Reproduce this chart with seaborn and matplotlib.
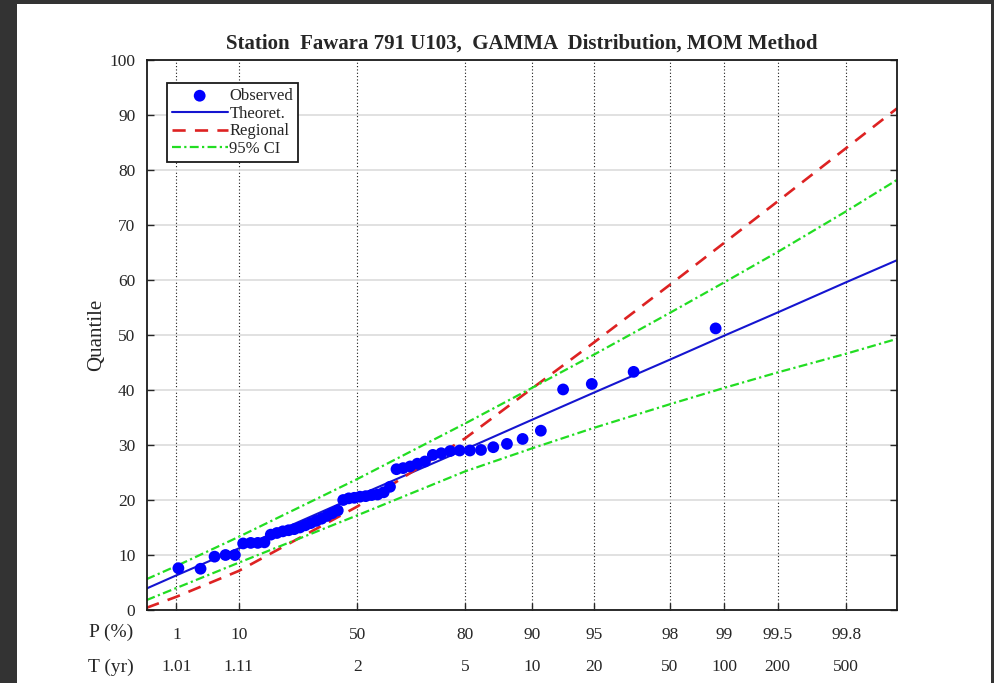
from statistics import NormalDist

import numpy as np
import pandas as pd
import matplotlib
matplotlib.use('Agg')
import matplotlib.pyplot as plt
import matplotlib.transforms as mtransforms
from matplotlib.patches import Rectangle
import seaborn as sns

TITLE = 'Station  Fawara 791 U103,  GAMMA  Distribution, MOM Method'

# observed annual maxima (sorted) and their plotting positions, P in %
obs_p = [1.12, 3.11, 5.11, 7.10, 9.10, 11.09, 13.09, 15.08, 17.08, 19.07,
         21.07, 23.07, 25.06, 27.06, 29.05, 31.05, 33.04, 35.04, 37.03, 39.03,
         41.02, 43.02, 45.01, 47.01, 49.00, 51.00, 52.99, 54.99, 56.98, 58.98,
         60.97, 62.97, 64.96, 66.96, 68.95, 70.95, 72.94, 74.94, 76.94, 78.93,
         80.93, 82.92, 84.92, 86.91, 88.91, 90.90, 92.90, 94.89, 96.89, 98.88]
obs_q = [7.6, 7.5, 9.7, 10.0, 10.0, 12.1, 12.2, 12.2, 12.3, 13.7,
         14.0, 14.3, 14.5, 14.7, 15.0, 15.4, 15.8, 16.2, 16.6, 17.1,
         17.6, 18.1, 20.0, 20.3, 20.4, 20.6, 20.7, 20.9, 21.0, 21.4,
         22.4, 25.6, 25.8, 26.1, 26.6, 27.0, 28.2, 28.5, 28.9, 29.0,
         29.0, 29.1, 29.6, 30.2, 31.1, 32.6, 40.1, 41.1, 43.3, 51.2]

# fitted / regional curves and confidence band, read at these P (%)
curve_p = [0.1, 1, 10, 50, 80, 90, 95, 98, 99, 99.5, 99.8, 99.9]
theor_q = [3.9, 6.3, 11.2, 20.7, 29.2, 34.6, 39.5, 45.5, 49.9, 54.1, 59.6, 63.6]
regional_q = [0.4, 2.4, 7.1, 18.8, 31.2, 40.3, 48.6, 59.1, 66.8, 74.3, 84.0, 91.2]
ci_upper_q = [5.6, 8.0, 13.3, 23.8, 33.9, 40.4, 46.4, 54.0, 59.6, 65.1, 72.5, 78.2]
ci_lower_q = [1.8, 4.0, 8.6, 17.2, 25.2, 29.4, 33.1, 37.4, 40.4, 43.2, 46.6, 49.3]

p_ticks = [1, 10, 50, 80, 90, 95, 98, 99, 99.5, 99.8]
p_labels = ['1', '10', '50', '80', '90', '95', '98', '99', '99.5', '99.8']
t_labels = ['1.01', '1.11', '2', '5', '10', '20', '50', '100', '200', '500']

# gamma probability paper (Wilson-Hilferty, shape 5)
SHAPE = 5.0
_nd = NormalDist()
_inv = np.vectorize(lambda p: _nd.inv_cdf(p) if 0 < p < 1 else np.nan, otypes=[float])
_cdf = np.vectorize(_nd.cdf, otypes=[float])


def p_to_x(p):
    p = np.clip(np.asarray(p, dtype=float) / 100, 1e-9, 1 - 1e-9)
    z = _inv(p)
    return SHAPE * (1 - 1 / (9 * SHAPE) + z / (3 * np.sqrt(SHAPE))) ** 3


def x_to_p(x):
    x = np.asarray(x, dtype=float)
    z = (np.cbrt(x / SHAPE) - (1 - 1 / (9 * SHAPE))) * 3 * np.sqrt(SHAPE)
    return 100 * _cdf(z)


sns.set_theme(style='white')
plt.rcParams['font.family'] = ['Liberation Serif', 'DejaVu Serif']

fig = plt.figure(figsize=(9.94, 6.83), dpi=100, facecolor='#333333')
fig.add_artist(Rectangle((17 / 994, 0), 974 / 994, 679 / 683, transform=fig.transFigure,
                         facecolor='white', edgecolor='none', zorder=-10))
ax = fig.add_axes([146.5 / 994, 73 / 683, 750.5 / 994, 550 / 683])
ax.set_xscale('function', functions=(p_to_x, x_to_p))

curves = pd.DataFrame({'P': curve_p, 'theor': theor_q, 'regional': regional_q,
                       'upper': ci_upper_q, 'lower': ci_lower_q})
obs = pd.DataFrame({'P': obs_p, 'Q': obs_q})

sns.lineplot(data=curves, x='P', y='theor', color='#1515d0', lw=1.5, ax=ax, label='Theoret.')
sns.lineplot(data=curves, x='P', y='regional', color='#dd2222', lw=1.9, ax=ax, label='Regional')
ax.lines[-1].set_dashes([5, 3.5])
sns.lineplot(data=curves, x='P', y='upper', color='#22dd22', lw=1.6, ax=ax, label='95% CI')
ax.lines[-1].set_dashes([4, 1.5, 1, 1.5])
sns.lineplot(data=curves, x='P', y='lower', color='#22dd22', lw=1.6, ax=ax, label='_nolegend_')
ax.lines[-1].set_dashes([4, 1.5, 1, 1.5])
sns.scatterplot(data=obs, x='P', y='Q', color='#0000ff', s=72, edgecolor='none', ax=ax,
                label='Observed', zorder=5)

ax.set_xlim(0.1, 99.9)
ax.set_ylim(0, 100)
ax.set_xticks(p_ticks)
ax.set_xticklabels(p_labels)
ax.set_yticks(range(0, 101, 10))
ax.minorticks_off()

ax.set_axisbelow(True)
ax.yaxis.grid(True, color='#dcdcdc', lw=1.2, ls='-')
for p in p_ticks:
    ax.axvline(p, color='k', lw=0.8, ls=(0, (1, 2)), zorder=0.5)

ax.tick_params(axis='x', direction='in', length=5, width=1, pad=12, labelsize=12.5,
               bottom=True, top=False)
ax.tick_params(axis='y', direction='in', length=5, width=1, pad=8, labelsize=12.5,
               left=True, right=True)
for s in ax.spines.values():
    s.set_color('k')
    s.set_linewidth(1.3)

ax.set_xlabel('')
ax.set_ylabel('Quantile', fontsize=15, labelpad=2)
ax.set_title(TITLE, fontsize=15, fontweight='bold', pad=8)

trans = mtransforms.blended_transform_factory(ax.transData, ax.transAxes)
for p, t in zip(p_ticks, t_labels):
    ax.text(p, -0.1036, t, transform=trans, ha='center', va='center', fontsize=12.5)
ax.text(-0.047, -0.040, 'P (%)', transform=ax.transAxes, ha='center', va='center', fontsize=14)
ax.text(-0.047, -0.1036, 'T (yr)', transform=ax.transAxes, ha='center', va='center', fontsize=14)

handles, labels = ax.get_legend_handles_labels()
order = [labels.index(k) for k in ['Observed', 'Theoret.', 'Regional', '95% CI']]
leg = ax.legend([handles[i] for i in order], [labels[i] for i in order],
                loc='upper left', bbox_to_anchor=(0.027, 0.958), borderaxespad=0,
                fontsize=12, fancybox=False, framealpha=1, edgecolor='k',
                handlelength=3.35, handletextpad=0.1, labelspacing=0.1, borderpad=0.3,
                scatterpoints=1)
leg.get_frame().set_linewidth(1.3)

fig.savefig('out.png', dpi=100, facecolor=fig.get_facecolor())
